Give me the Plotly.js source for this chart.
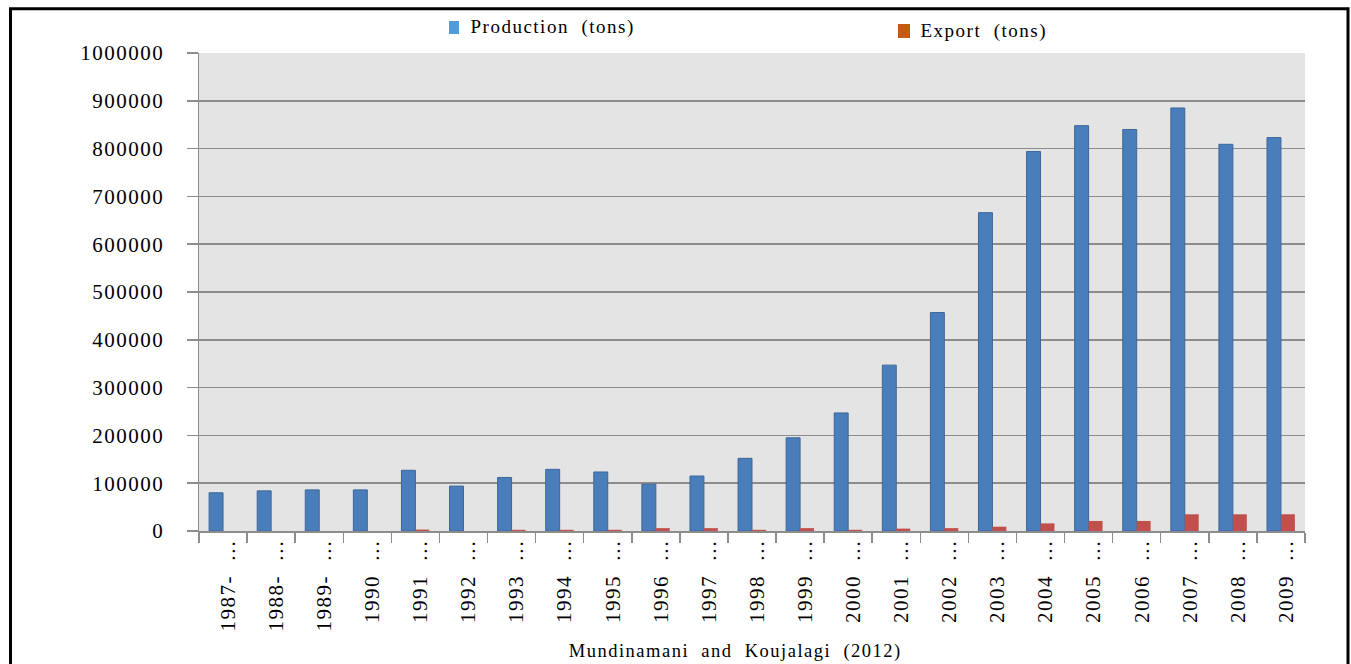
<!DOCTYPE html>
<html>
<head>
<meta charset="utf-8">
<script src="https://cdn.plot.ly/plotly-3.0.1.min.js"></script>
<style>
  html, body { margin: 0; padding: 0; background: #ffffff; }
  #chart { width: 1351px; height: 664px; }
  #chart .main-svg text { letter-spacing: 1.5px; }
</style>
</head>
<body>
<div id="chart"></div>
<script>
// ---- data ----
const categories = ['1987-', '1988-', '1989-', '1990', '1991', '1992', '1993', '1994', '1995', '1996',
  '1997', '1998', '1999', '2000', '2001', '2002', '2003', '2004', '2005', '2006', '2007', '2008', '2009'];
const production = [80000, 84000, 86000, 86000, 127000, 94000, 112000, 129000, 123500, 98000,
  115000, 152000, 195000, 247000, 347000, 457000, 666000, 794000, 848000, 840000, 885000, 809000, 823000];
const exportTons = [0, 0, 0, 0, 3000, 0, 2500, 2500, 2500, 6000,
  6000, 2500, 6000, 2500, 5000, 6000, 9000, 16000, 21000, 21000, 35000, 35000, 35000];
const seriesNames = ['Production\u00a0\u00a0(tons)', 'Export\u00a0\u00a0(tons)'];
const yTicks = [0, 100000, 200000, 300000, 400000, 500000, 600000, 700000, 800000, 900000, 1000000];
const sourceText = 'Mundinamani\u00a0\u00a0and\u00a0\u00a0Koujalagi\u00a0\u00a0(2012)';

const tickText = categories.map(c => c + '\u00a0\u00a0\u2026');

// plot area geometry (pixels) used for placing decorations in paper units
const L = 199, R = 1305, T = 53, B = 531;
const W = R - L, H = B - T;
const px = x => (x - L) / W;
const py = y => (B - y) / H;

const font = 'Liberation Serif, Times New Roman, serif';

const traces = [
  {
    type: 'bar', name: seriesNames[0], x: categories, y: production,
    marker: { color: '#4A7EBB', line: { color: '#3B679C', width: 1 } },
    showlegend: false, hoverinfo: 'x+y'
  },
  {
    type: 'bar', name: seriesNames[1], x: categories, y: exportTons,
    marker: { color: '#C0504D', line: { width: 0 } },
    showlegend: false, hoverinfo: 'x+y'
  }
];

const layout = {
  width: 1351, height: 664,
  margin: { l: L, r: 1351 - R, t: T, b: 664 - B, pad: 0 },
  paper_bgcolor: '#ffffff',
  plot_bgcolor: '#E4E4E4',
  barmode: 'group', bargap: 0.42, bargroupgap: 0,
  font: { family: font, color: '#000000', size: 21 },
  xaxis: {
    type: 'category', automargin: false,
    tickmode: 'array', tickvals: categories, ticktext: tickText,
    tickangle: -90, tickson: 'boundaries',
    ticks: 'outside', ticklen: 10, tickcolor: '#8c8c8c', tickwidth: 1.5,
    ticklabelshift: 5, ticklabelstandoff: -2,
    showline: true, linecolor: '#8c8c8c', linewidth: 1.5,
    showgrid: false, zeroline: false,
    tickfont: { family: font, size: 21, color: '#000000' }
  },
  yaxis: {
    range: [0, 1000000], automargin: false,
    tickmode: 'array', tickvals: yTicks, ticktext: yTicks.map(v => String(v)),
    ticks: 'outside', ticklen: 11, tickcolor: '#8c8c8c', tickwidth: 1.5,
    ticklabelstandoff: 18,
    showline: true, linecolor: '#8c8c8c', linewidth: 1.5,
    showgrid: true, gridcolor: '#8c8c8c', gridwidth: 1.5, zeroline: false,
    tickfont: { family: font, size: 21, color: '#000000' }
  },
  shapes: [
    // outer frame
    { type: 'rect', xref: 'paper', yref: 'paper',
      x0: px(10.5), x1: px(1348), y0: py(720), y1: py(8.7),
      line: { color: '#000000', width: 3 }, fillcolor: 'rgba(0,0,0,0)', layer: 'above' },
    // legend swatches
    { type: 'rect', xref: 'paper', yref: 'paper',
      x0: px(449), x1: px(459), y0: py(34), y1: py(21),
      line: { width: 0 }, fillcolor: '#4F9CD9' },
    { type: 'rect', xref: 'paper', yref: 'paper',
      x0: px(898), x1: px(910), y0: py(38), y1: py(24),
      line: { width: 0 }, fillcolor: '#C55A11' }
  ],
  annotations: [
    { xref: 'paper', yref: 'paper', x: px(482), y: py(27.5), xanchor: 'left', yanchor: 'middle',
      text: seriesNames[0], showarrow: false, font: { family: font, size: 19, color: '#000000' } },
    { xref: 'paper', yref: 'paper', x: px(929), y: py(31), xanchor: 'left', yanchor: 'middle',
      text: seriesNames[1], showarrow: false, font: { family: font, size: 19, color: '#000000' } },
    { xref: 'paper', yref: 'paper', x: px(735), y: py(651), xanchor: 'center', yanchor: 'middle',
      text: sourceText, showarrow: false, font: { family: font, size: 18.5, color: '#000000' } }
  ]
};

Plotly.newPlot('chart', traces, layout, { displayModeBar: false, staticPlot: true });
</script>
</body>
</html>
